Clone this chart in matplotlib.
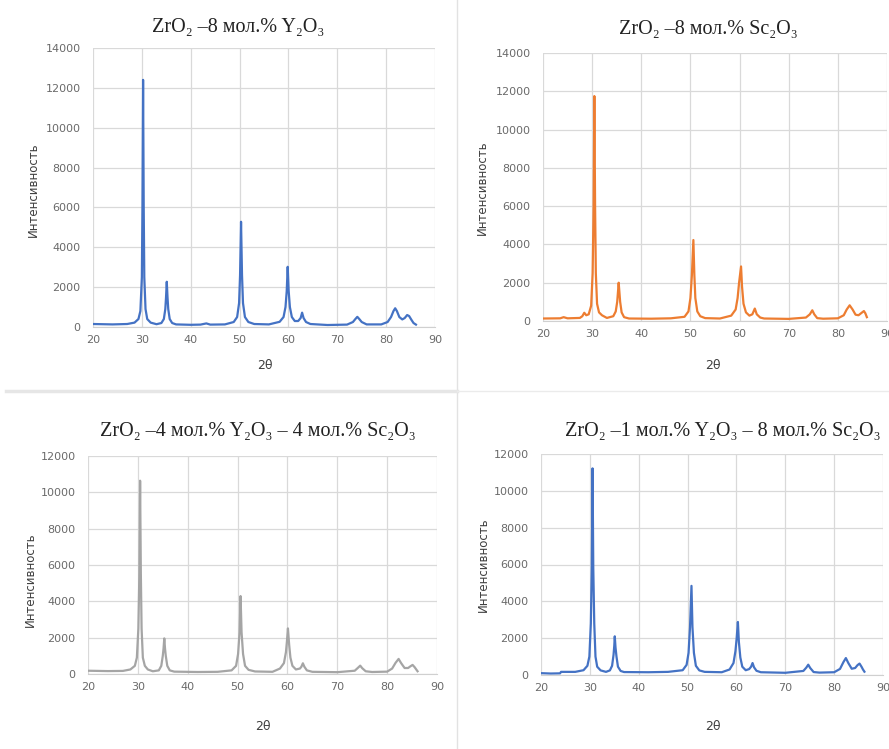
import matplotlib
matplotlib.use('Agg')
import matplotlib.pyplot as plt
from matplotlib.lines import Line2D

W, H = 889, 749

# --- data (2theta, intensity) ---
x_y8 = [20, 24, 27, 28.5, 29.3, 29.7, 30.0, 30.12, 30.25, 30.38, 30.5, 30.75, 31.1, 31.8, 33,
        34.0, 34.5, 34.8, 34.95, 35.1, 35.25, 35.4, 35.7, 36.2, 37,
        40, 42, 43.2, 44, 47, 48.8, 49.5, 49.9, 50.1, 50.3, 50.5, 50.7, 51.1, 51.8, 53,
        56, 58.2, 59.0, 59.4, 59.65, 59.85, 60.05, 60.3, 60.7, 61.3, 62.0, 62.5, 62.8, 63.1, 63.6, 64.5,
        68, 72, 73.2, 73.7, 74.1, 74.5, 75.0, 76,
        79, 80.3, 81.0, 81.5, 81.85, 82.2, 82.7, 83.3, 83.8, 84.3, 84.7, 85.2, 85.6, 86.1]
i_y8 = [150, 130, 150, 220, 400, 800, 2500, 6000, 12400, 6000, 2500, 900, 400, 220, 140,
        200, 400, 900, 1500, 2270, 1500, 900, 400, 200, 130,
        110, 120, 180, 120, 130, 250, 500, 1200, 2600, 5280, 2600, 1200, 500, 250, 150,
        130, 260, 500, 1000, 1800, 3020, 1800, 1000, 500, 300, 300, 450, 720, 450, 250, 150,
        100, 120, 250, 400, 510, 400, 250, 130,
        130, 250, 500, 800, 940, 800, 500, 380, 450, 600, 550, 350, 200, 120]

x_sc8 = [20, 23.5, 24.2, 25, 27.5, 28.0, 28.4, 28.8, 29.3, 29.8, 30.1, 30.3, 30.45, 30.6, 30.75,
         31.0, 31.4, 32.0, 33,
         34.3, 34.8, 35.1, 35.25, 35.4, 35.55, 35.7, 36.0, 36.5, 37.5,
         42, 46, 48.8, 49.6, 50.0, 50.3, 50.6, 50.8, 51.0, 51.4, 52.0, 53,
         56, 58.3, 59.2, 59.6, 59.9, 60.3, 60.5, 60.8, 61.3, 62.0, 62.6, 63.1, 63.5, 64.2, 65,
         70, 73.5, 74.3, 74.8, 75.2, 75.8, 77,
         80, 81.2, 81.8, 82.4, 83.0, 83.6, 84.2, 84.8, 85.3, 85.6, 85.9]
i_sc8 = [130, 140, 200, 140, 160, 250, 430, 300, 350, 800, 2500, 6000, 11750, 6000, 2500,
         900, 450, 300, 160,
         250, 500, 1000, 1500, 2000, 1500, 1000, 450, 200, 130,
         120, 140, 220, 500, 1200, 2400, 4230, 2400, 1200, 500, 250, 150,
         130, 280, 600, 1200, 2000, 2850, 1800, 900, 450, 280, 350, 650, 350, 180, 130,
         110, 180, 350, 560, 350, 150, 120,
         140, 300, 600, 820, 600, 330, 300, 420, 520, 400, 200]

x_mix = [20, 24, 27, 28.5, 29.4, 29.8, 30.1, 30.3, 30.45, 30.6, 30.75, 31.0, 31.4, 32.0, 33,
         34.2, 34.7, 35.0, 35.15, 35.3, 35.45, 35.6, 35.9, 36.4, 37.3,
         42, 46, 48.8, 49.7, 50.1, 50.4, 50.6, 50.8, 51.1, 51.5, 52.2, 53.5,
         57, 58.5, 59.3, 59.7, 59.9, 60.1, 60.35, 60.6, 61.0, 61.7, 62.5, 62.8, 63.1, 63.4, 63.9, 65,
         70, 73.5, 74.1, 74.6, 75.0, 75.7, 77,
         80, 81.0, 81.7, 82.3, 82.8, 83.5, 84.2, 84.7, 85.1, 85.5, 86.1]
i_mix = [180, 160, 170, 250, 450, 900, 2500, 5500, 10640, 5500, 2500, 900, 450, 250, 150,
         200, 450, 1000, 1400, 1960, 1400, 1000, 450, 200, 130,
         110, 120, 200, 450, 1100, 2300, 4290, 2300, 1100, 450, 230, 140,
         120, 300, 600, 1200, 1800, 2510, 1600, 900, 450, 250, 300, 400, 590, 400, 200, 120,
         100, 180, 330, 460, 320, 150, 110,
         130, 300, 620, 830, 600, 330, 330, 430, 500, 380, 150]

x_y1 = [20, 22, 23.9, 24.1, 27, 28.7, 29.5, 29.9, 30.2, 30.4, 30.55, 30.7, 30.9, 31.15, 31.5,
        32.2, 33.3,
        34.1, 34.55, 34.85, 35.0, 35.1, 35.25, 35.45, 35.75, 36.3, 37,
        42, 46, 49.0, 49.8, 50.2, 50.5, 50.8, 51.0, 51.3, 51.7, 52.4, 53.5,
        57, 58.6, 59.4, 59.8, 60.05, 60.3, 60.5, 60.8, 61.2, 61.9, 62.6, 63.0, 63.3, 63.6, 64.1, 65,
        70, 73.7, 74.3, 74.7, 75.1, 75.8, 77,
        80, 81.2, 81.9, 82.4, 82.9, 83.6, 84.3, 84.8, 85.2, 85.6, 85.9, 86.2]
i_y1 = [100, 80, 90, 170, 170, 260, 500, 1000, 2800, 5800, 11220, 5800, 2800, 1000, 450,
        250, 170,
        250, 500, 1100, 1600, 2100, 1500, 1000, 450, 220, 160,
        150, 170, 260, 550, 1200, 2600, 4840, 2600, 1200, 500, 250, 170,
        150, 300, 650, 1300, 2000, 2880, 1800, 950, 450, 260, 320, 450, 650, 420, 230, 150,
        120, 220, 400, 560, 380, 160, 130,
        150, 330, 700, 920, 650, 340, 380, 540, 620, 450, 300, 180]

titles = ['ZrO₂ –8 мол.% Y₂O₃',
          'ZrO₂ –8 мол.% Sc₂O₃',
          'ZrO₂ –4 мол.% Y₂O₃ – 4 мол.% Sc₂O₃',
          'ZrO₂ –1 мол.% Y₂O₃ – 8 мол.% Sc₂O₃']
colors = ['#4472C4', '#ED7D31', '#A5A5A5', '#4472C4']
ymaxes = [14000, 14000, 12000, 12000]
series = [(x_y8, i_y8), (x_sc8, i_sc8), (x_mix, i_mix), (x_y1, i_y1)]

# panel boxes in pixels: left, right, top, bottom
boxes = [(93, 435, 48, 327), (543, 887, 53, 321), (88, 437, 456, 674), (541, 883, 454, 675)]
title_pos = [(238, 27), (708, 30), (258, 432), (723, 432)]
ylab_pos = [(33, 190), (482, 188), (30, 580), (483, 565)]
xlab_pos = [(265, 365), (713, 365), (263, 727), (713, 727)]

fig = plt.figure(figsize=(W / 100, H / 100), dpi=100)

for k in range(4):
    l, r, t, b = boxes[k]
    ax = fig.add_axes([l / W, 1 - b / H, (r - l) / W, (b - t) / H])
    xs, ys = series[k]
    ax.plot(xs, ys, color=colors[k], lw=1.6, solid_joinstyle='round')
    ax.set_xlim(20, 90)
    ax.set_ylim(0, ymaxes[k])
    ax.set_xticks(range(20, 91, 10))
    ax.set_yticks(range(0, ymaxes[k] + 1, 2000))
    ax.grid(True, color='#D9D9D9', lw=0.9)
    ax.set_axisbelow(True)
    for s in ['top', 'right', 'left']:
        ax.spines[s].set_visible(False)
    ax.spines['bottom'].set_color('#D0D0D0')
    ax.tick_params(length=0, labelsize=8, colors='#6A6A6A')
    ax.tick_params(axis='y', pad=9)
    ax.tick_params(axis='x', pad=6)

    tx, ty = title_pos[k]
    fig.text(tx / W, 1 - ty / H, titles[k], ha='center', va='center', fontsize=14.5,
             family=['Liberation Serif', 'DejaVu Serif'], color='#222222')
    lx, ly = ylab_pos[k]
    fig.text(lx / W, 1 - ly / H, 'Интенсивность', rotation=90, ha='center', va='center',
             fontsize=8.5, color='#3F3F3F')
    xx, xy = xlab_pos[k]
    fig.text(xx / W, 1 - xy / H, '2θ', ha='center', va='center', fontsize=9, color='#3F3F3F')

# panel dividers
fig.add_artist(Line2D([457 / W, 457 / W], [0, 1], color='#E2E2E2', lw=1))
fig.add_artist(Line2D([6 / W, 457 / W], [1 - 391 / H] * 2, color='#E6E6E6', lw=2.5))
fig.add_artist(Line2D([457 / W, 1], [1 - 391 / H] * 2, color='#EBEBEB', lw=1))

fig.savefig('out.png', dpi=100)
